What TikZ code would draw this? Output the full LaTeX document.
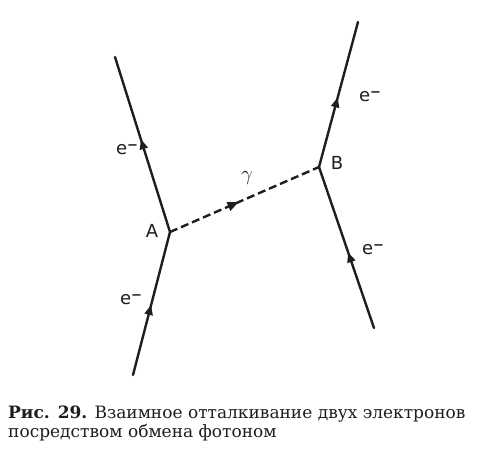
\documentclass[tikz,border=0pt]{standalone}
\usepackage{fontspec}
\setmainfont{DejaVu Serif}
\newfontfamily\labfont{DejaVu Sans}
\usetikzlibrary{arrows.meta,decorations.markings}
\definecolor{ink}{RGB}{30,30,30}
\tikzset{
  x=1pt, y=-1pt,
  fermion/.style={draw=ink, line width=2.4pt, line cap=round,
    postaction={decorate, decoration={markings,
      mark=at position #1 with {\arrow{Triangle[length=10pt,width=8pt]}}}}},
  fermion/.default=0.48,
  photon/.style={draw=ink, line width=2.4pt, dash pattern=on 8pt off 4pt,
    postaction={decorate, decoration={markings,
      mark=at position 0.46 with {\arrow{Triangle[length=11pt,width=9pt]}}}}},
  lbl/.style={font=\labfont\fontsize{18}{18}\selectfont, text=ink, inner sep=0pt},
  capt/.style={anchor=base west, inner sep=0pt, text=ink, font=\fontsize{17}{19}\selectfont}
}
\newcommand{\elec}{e\raisebox{0.55ex}{\fontsize{13}{13}\selectfont\textbf{−}}}
\begin{document}
\begin{tikzpicture}
\useasboundingbox (0,0) rectangle (478,458);
\fill[white] (0,0) rectangle (478,458);
% vertices and ends
\coordinate (A) at (170,232);
\coordinate (B) at (319,167);
\coordinate (ul) at (115,57);
\coordinate (ll) at (133,375);
\coordinate (ur) at (358,22);
\coordinate (lr) at (374,328);
% lines
\draw[fermion=0.53] (A) -- (ul);
\draw[fermion=0.49] (ll) -- (A);
\draw[fermion=0.48] (B) -- (ur);
\draw[fermion=0.47] (lr) -- (B);
\draw[photon] (A) -- (B);
% labels
\node[lbl] (labA) at (152,231) {A};
\node[lbl] (labB) at (337,163) {B};
\node[lbl] (e1) at (127,150) {\elec};
\node[lbl] (e2) at (370,97) {\elec};
\node[lbl] (e3) at (131,300) {\elec};
\node[lbl] (e4) at (373,250) {\elec};
\node[text=ink, inner sep=0pt] (g) at (247,178) {\fontsize{20}{20}\selectfont$\gamma$};
% caption
\node[capt] (c1) at (8,418) {\textbf{Рис. 29.} Взаимное отталкивание двух электронов};
\node[capt] (c2) at (8,437) {посредством обмена фотоном};
\end{tikzpicture}
\end{document}
